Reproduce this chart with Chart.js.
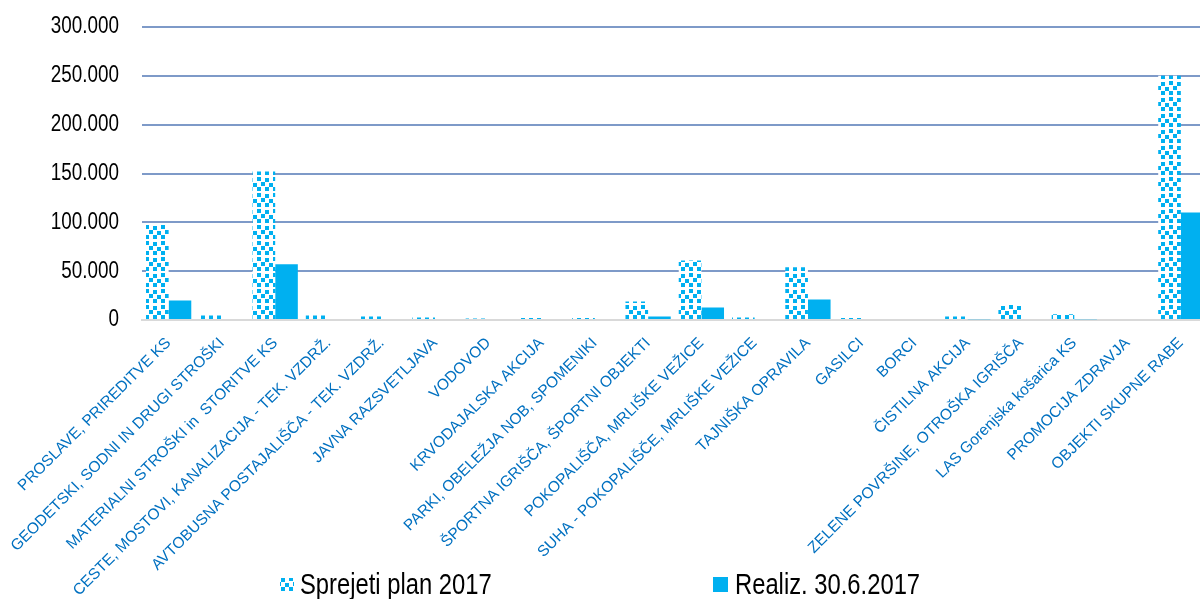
<!DOCTYPE html>
<html><head><meta charset="utf-8">
<script src="https://cdn.jsdelivr.net/npm/chart.js@4"></script>
<style>
html,body{margin:0;padding:0;background:#fff;overflow:hidden;width:1200px;height:599px}
#wrap{position:absolute;left:0;top:0;width:1208px;height:599px}
</style>
</head><body><div id="wrap"><canvas id="c"></canvas></div>
<script>
const categories = [
  'PROSLAVE, PRIREDITVE KS',
  'GEODETSKI, SODNI IN DRUGI STROŠKI',
  'MATERIALNI STROŠKI in  STORITVE KS',
  'CESTE, MOSTOVI, KANALIZACIJA - TEK. VZDRŽ.',
  'AVTOBUSNA POSTAJALIŠČA - TEK. VZDRŽ.',
  'JAVNA RAZSVETLJAVA',
  'VODOVOD',
  'KRVODAJALSKA AKCIJA',
  'PARKI, OBELEŽJA NOB, SPOMENIKI',
  'ŠPORTNA IGRIŠČA, ŠPORTNI OBJEKTI',
  'POKOPALIŠČA, MRLIŠKE VEŽICE',
  'SUHA - POKOPALIŠČE, MRLIŠKE VEŽICE',
  'TAJNIŠKA OPRAVILA',
  'GASILCI',
  'BORCI',
  'ČISTILNA AKCIJA',
  'ZELENE POVRŠINE, OTROŠKA IGRIŠČA',
  'LAS Gorenjska košarica KS',
  'PROMOCIJA ZDRAVJA',
  'OBJEKTI SKUPNE RABE'
];
const planValues   = [98000, 4500, 152000, 4500, 3500, 2500, 1500, 2000, 2000, 19000, 61000, 2500, 54000, 2000, 0, 3500, 16500, 6000, 0, 250000];
const realizValues = [20000, 0, 57000, 0, 0, 0, 0, 0, 0, 3500, 12700, 0, 21000, 0, 0, 800, 0, 800, 0, 110000];
const seriesNames = ['Sprejeti plan 2017', 'Realiz. 30.6.2017'];
const yTickValues = [0, 50000, 100000, 150000, 200000, 250000, 300000];

const BLUE = '#00B0F0';
const NARROW = 0.82;
const Y_LABEL_GAP = 23;
function makePattern() {
  const t = document.createElement('canvas');
  t.width = 16; t.height = 16;
  const g = t.getContext('2d');
  g.fillStyle = '#ffffff'; g.fillRect(0, 0, 16, 16);
  g.fillStyle = BLUE;
  g.fillRect(1, 1, 4, 4);
  g.fillRect(9, 2, 4, 4);
  g.fillRect(5, 6, 4, 4);
  g.fillRect(13, 7, 3, 4);
  g.fillRect(0, 7, 1, 4);
  g.fillRect(1, 11, 4, 4);
  g.fillRect(9, 11, 4, 4);
  return g.createPattern(t, 'repeat');
}
const pattern = makePattern();

function fmt(v) {
  return String(v).replace(/\B(?=(\d{3})+(?!\d))/g, '.');
}

const condensedY = {
  id: 'condensedY',
  beforeDraw(chart) {
    const s = chart.scales.y;
    if (s._narrowPatched) return;
    const orig = s.drawLabels.bind(s);
    s.drawLabels = function (area) {
      const ctx = this.ctx;
      const x0 = this.right - Y_LABEL_GAP;
      ctx.save();
      ctx.translate(x0, 0); ctx.scale(NARROW, 1); ctx.translate(-this.right, 0);
      orig(area);
      ctx.restore();
    };
    s._narrowPatched = true;
  }
};

const legendPlugin = {
  id: 'customLegend',
  afterDraw(chart) {
    const ctx = chart.ctx;
    ctx.save();
    ctx.fillStyle = pattern;
    ctx.fillRect(280, 578, 14, 14);
    ctx.fillStyle = BLUE;
    ctx.fillRect(713, 577, 15, 15);
    ctx.fillStyle = '#000';
    ctx.font = "29px 'Liberation Sans', Arial, sans-serif";
    ctx.textBaseline = 'alphabetic';
    ctx.textAlign = 'left';
    [[seriesNames[0], 300], [seriesNames[1], 735]].forEach(([txt, x]) => {
      ctx.save();
      ctx.translate(x, 594); ctx.scale(NARROW, 1);
      ctx.fillText(txt, 0, 0);
      ctx.restore();
    });
    ctx.restore();
  }
};

new Chart(document.getElementById('c'), {
  type: 'bar',
  data: {
    labels: categories,
    datasets: [
      { label: seriesNames[0], data: planValues, backgroundColor: pattern, borderWidth: 0,
        categoryPercentage: 0.85, barPercentage: 1.0 },
      { label: seriesNames[1], data: realizValues, backgroundColor: BLUE, borderWidth: 0,
        categoryPercentage: 0.85, barPercentage: 1.0 }
    ]
  },
  options: {
    responsive: true,
    maintainAspectRatio: false,
    animation: false,
    layout: { padding: { top: 27, left: 0, right: 0, bottom: 0 } },
    plugins: { legend: { display: false }, tooltip: { enabled: false } },
    scales: {
      x: {
        grid: { display: false, drawTicks: false },
        border: { display: true, color: '#D9D9D9', width: 2 },
        ticks: {
          autoSkip: false, maxRotation: 45, minRotation: 45, padding: 14,
          color: '#0070C0',
          font: { family: "'Liberation Sans', Arial, sans-serif", size: 15.5 }
        },
        afterFit(scale) { scale.height = 279; }
      },
      y: {
        min: 0, max: 300000,
        afterBuildTicks(scale) { scale.ticks = yTickValues.map(v => ({ value: v })); },
        grid: {
          drawTicks: false,
          color: ctx => (ctx.tick && ctx.tick.value === 0) ? 'rgba(0,0,0,0)' : '#7E9AC8',
          lineWidth: 2
        },
        border: { display: false },
        ticks: {
          padding: 0,
          color: '#000',
          font: { family: "'Liberation Sans', Arial, sans-serif", size: 23 },
          callback: v => fmt(v)
        },
        afterFit(scale) { scale.width = 142; }
      }
    }
  },
  plugins: [condensedY, legendPlugin]
});
</script>
</body></html>
